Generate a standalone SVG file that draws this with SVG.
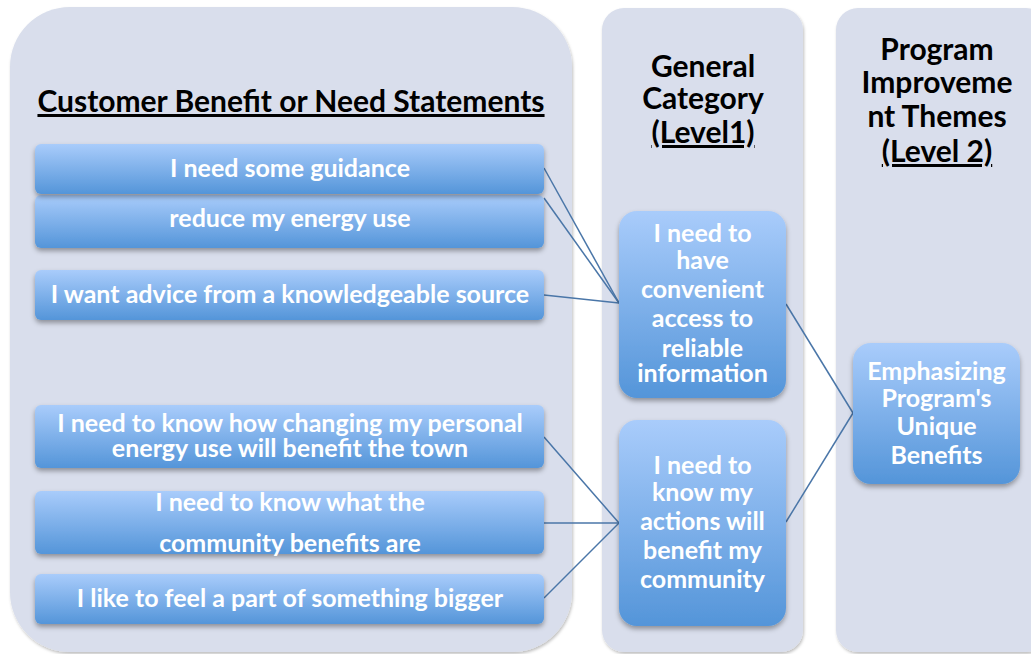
<svg xmlns="http://www.w3.org/2000/svg" width="1031" height="654" viewBox="0 0 1031 654">
<defs>
<linearGradient id="bg" x1="0" y1="0" x2="0" y2="1">
<stop offset="0" stop-color="#A9CCFB"/>
<stop offset="1" stop-color="#5495D9"/>
</linearGradient>
<filter id="sh" x="-10%" y="-10%" width="120%" height="130%">
<feDropShadow dx="0" dy="3" stdDeviation="2.5" flood-color="#000" flood-opacity="0.35"/>
</filter>
<filter id="psh" x="-5%" y="-5%" width="110%" height="110%">
<feDropShadow dx="1" dy="2" stdDeviation="1.5" flood-color="#000" flood-opacity="0.25"/>
</filter>
</defs>
<style>
.panel{fill:#D9DEEC;filter:url(#psh)}
.box{fill:url(#bg);filter:url(#sh)}
.t{font-family:Lato,"Open Sans","Liberation Sans",sans-serif;font-weight:bold;fill:#FFFFFF;text-anchor:middle;font-size:25px}
.h{font-family:Lato,"Open Sans","Liberation Sans",sans-serif;font-weight:bold;fill:#000000;text-anchor:middle;font-size:30px}
.u{text-decoration:underline}
.c{stroke:#4A76A8;stroke-width:1.5;fill:none}
</style>
<rect width="1031" height="654" fill="#FFFFFF"/>
<g id="panels">
<rect class="panel" x="10" y="7" width="562" height="645" rx="60"/>
<rect class="panel" x="602" y="8" width="201" height="644" rx="22"/>
<rect class="panel" x="836" y="8" width="212" height="644" rx="22"/>
</g>
<g id="headers">
<text class="h u" x="291" y="112">Customer Benefit or Need Statements</text>
<text class="h" x="703" y="77">General</text>
<text class="h" x="703" y="109">Category</text>
<text class="h u" x="703" y="143">(Level1)</text>
<text class="h" x="937" y="60">Program</text>
<text class="h" x="937" y="93">Improveme</text>
<text class="h" x="937" y="127">nt Themes</text>
<text class="h u" x="937" y="162">(Level 2)</text>
</g>
<g id="connectors">
<line class="c" x1="544" y1="168" x2="619" y2="303"/>
<line class="c" x1="544" y1="198" x2="619" y2="303"/>
<line class="c" x1="544" y1="295" x2="619" y2="303"/>
<line class="c" x1="544" y1="437" x2="619" y2="523"/>
<line class="c" x1="544" y1="523" x2="619" y2="523"/>
<line class="c" x1="544" y1="598" x2="619" y2="523"/>
<line class="c" x1="786" y1="304" x2="853" y2="413"/>
<line class="c" x1="786" y1="522" x2="853" y2="413"/>
</g>
<g id="n2">
<rect class="box" x="35" y="195" width="509" height="53" rx="6"/>
<text class="t" x="290" y="227">reduce my energy use</text>
</g>
<g id="n1">
<rect class="box" x="35" y="144" width="509" height="50" rx="6"/>
<text class="t" x="290" y="177">I need some guidance</text>
</g>
<g id="n3">
<rect class="box" x="35" y="270" width="509" height="50" rx="6"/>
<text class="t" x="290" y="303">I want advice from a knowledgeable source</text>
</g>
<g id="n4">
<rect class="box" x="35" y="405" width="509" height="63" rx="6"/>
<text class="t" x="290" y="432">I need to know how changing my personal</text>
<text class="t" x="290" y="457">energy use will benefit the town</text>
</g>
<g id="n5">
<rect class="box" x="35" y="491" width="509" height="63" rx="6"/>
<text class="t" x="290" y="511">I need to know what the</text>
<text class="t" x="290" y="552">community benefits are</text>
</g>
<g id="n6">
<rect class="box" x="35" y="574" width="509" height="50" rx="6"/>
<text class="t" x="290" y="607">I like to feel a part of something bigger</text>
</g>
<g id="c1">
<rect class="box" x="619" y="211" width="167" height="187" rx="18"/>
<text class="t" x="702.5" y="242">I need to</text>
<text class="t" x="702.5" y="269">have</text>
<text class="t" x="702.5" y="298">convenient</text>
<text class="t" x="702.5" y="327">access to</text>
<text class="t" x="702.5" y="357">reliable</text>
<text class="t" x="702.5" y="382">information</text>
</g>
<g id="c2">
<rect class="box" x="619" y="420" width="167" height="206" rx="18"/>
<text class="t" x="702.5" y="474">I need to</text>
<text class="t" x="702.5" y="501">know my</text>
<text class="t" x="702.5" y="530">actions will</text>
<text class="t" x="702.5" y="559">benefit my</text>
<text class="t" x="702.5" y="588">community</text>
</g>
<g id="t1">
<rect class="box" x="853" y="343" width="167" height="141" rx="18"/>
<text class="t" x="936.5" y="380">Emphasizing</text>
<text class="t" x="936.5" y="407">Program's</text>
<text class="t" x="936.5" y="435">Unique</text>
<text class="t" x="936.5" y="464">Benefits</text>
</g>
</svg>
